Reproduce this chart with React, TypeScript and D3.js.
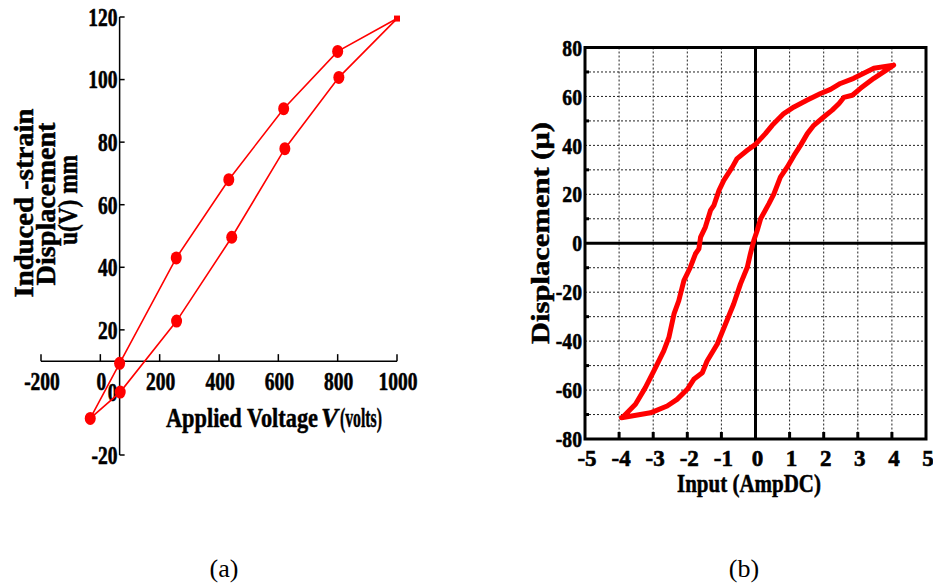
import React from "react";
import * as d3 from "d3";

// (a) induced-strain displacement vs applied voltage
const voltageLoad = [-34, 67, 257, 443, 622, 804, 1000];
const dispLoad = [-8.3, 0.1, 22.8, 49.6, 77.9, 100.7, 119.5];
const voltageUnload = [1000, 800, 618, 433, 256, 65, -34];
const dispUnload = [119.5, 109, 90.7, 68, 43, 9.3, -8.3];
const voltageTicks = [-200, 0, 200, 400, 600, 800, 1000];
const strainTicks = [-20, 0, 20, 40, 60, 80, 100, 120];

// (b) displacement vs input current, hysteresis loop
const inputDown = [4.05, 3.47, 2.88, 2.49, 2.2, 1.91, 1.52, 1.13, 0.83, 0.49, 0.29, 0, -0.24, -0.54, -0.68, -0.93, -1.07, -1.22, -1.32, -1.47, -1.61, -1.66, -1.76, -1.91, -2.1, -2.25, -2.39, -2.54, -2.69, -2.98, -3.23, -3.52, -3.86, -3.93];
const dispDown = [72.8, 71.5, 67.4, 65.3, 62.9, 61.2, 58.5, 55.7, 53.0, 48.2, 44.8, 40.4, 38.0, 34.6, 31.1, 25.7, 21.6, 15.5, 13.4, 6.6, 2.5, -2.3, -4.3, -9.8, -15.3, -23.5, -28.9, -38.5, -44.0, -52.2, -59.0, -65.8, -70.6, -71.3];
const inputUp = [-3.93, -3.08, -2.59, -2.3, -2.0, -1.81, -1.56, -1.42, -1.12, -0.88, -0.64, -0.44, -0.24, -0.15, -0.05, 0.05, 0.15, 0.39, 0.54, 0.73, 0.93, 1.13, 1.32, 1.52, 1.71, 2.0, 2.25, 2.45, 2.59, 2.84, 3.08, 3.47, 3.77, 4.05];
const dispUp = [-71.3, -69.3, -66.5, -63.8, -59.7, -55.6, -52.9, -48.1, -41.2, -33.0, -24.8, -16.6, -9.8, -4.3, 1.1, 5.2, 10.0, 16.1, 20.2, 27.0, 31.1, 35.9, 40.0, 44.8, 48.2, 51.6, 54.4, 57.1, 59.6, 60.5, 63.3, 67.4, 70.1, 72.8];
const inputTicks = [-5, -4, -3, -2, -1, 0, 1, 2, 3, 4, 5];
const dispTicks = [-80, -60, -40, -20, 0, 20, 40, 60, 80];
const dispGrid = [-70, -60, -50, -40, -30, -20, -10, 10, 20, 30, 40, 50, 60, 70];
const dispMinor = [-70, -50, -30, -10, 10, 30, 50, 70];

const RED = "#ff0000";
const SERIF = "'Liberation Serif', 'Times New Roman', serif";

// squeezed width of a numeric label (digits are 0.5em, minus 0.333em in Times)
const numWidth = (s: string, fs: number, squeeze: number) =>
  s.split("").reduce((w, c) => w + (c === "-" ? 0.333 : 0.5), 0) * fs * squeeze;

const Num = ({ x, y, v, fs, squeeze, anchor, dy }: any) => {
  const s = String(v);
  return (
    <text
      x={x}
      y={y}
      dy={dy}
      textAnchor={anchor}
      fontFamily={SERIF}
      fontWeight={700}
      fontSize={fs}
      stroke="#000"
      strokeWidth={0.6}
      textLength={numWidth(s, fs, squeeze)}
      lengthAdjust="spacingAndGlyphs"
    >
      {s}
    </text>
  );
};

export default function App() {
  // panel (a) scales
  const xa = d3.scaleLinear().domain([-200, 1000]).range([41, 397]);
  const ya = d3.scaleLinear().domain([-20, 120]).range([455, 17]);
  const axisXa = xa(65); // vertical axis crosses here
  const axisYa = ya(10); // horizontal axis crosses here

  const lineA = d3
    .line<[number, number]>()
    .x((d) => xa(d[0]))
    .y((d) => ya(d[1]));
  const loadPts: [number, number][] = voltageLoad.map((v, i) => [v, dispLoad[i]]);
  const unloadPts: [number, number][] = voltageUnload.map((v, i) => [v, dispUnload[i]]);
  const dots = [...loadPts.slice(0, -1), ...unloadPts.slice(1, -1)];

  // panel (b) scales
  const xb = d3.scaleLinear().domain([-5, 5]).range([585, 926]);
  const yb = d3.scaleLinear().domain([-80, 80]).range([439, 47.5]);
  const lineB = d3
    .line<[number, number]>()
    .x((d) => xb(d[0]))
    .y((d) => yb(d[1]));
  const loopPts: [number, number][] = [
    ...inputDown.map((v, i) => [v, dispDown[i]] as [number, number]),
    ...inputUp.slice(1).map((v, i) => [v, dispUp[i + 1]] as [number, number]),
  ];

  const boldTitle = { fontFamily: SERIF, fontWeight: 700, stroke: "#000", strokeWidth: 0.5 };

  return (
    <svg
      width={933}
      height={584}
      style={{ position: "absolute", left: 0, top: 0, background: "#fff" }}
    >
      {/* ---------- (a) ---------- */}
      <g>
        <line x1={axisXa} x2={axisXa} y1={ya(120)} y2={ya(-20)} stroke="#000" strokeWidth={1.5} />
        <line x1={xa(-200)} x2={xa(1000)} y1={axisYa} y2={axisYa} stroke="#000" strokeWidth={1.5} />
        {strainTicks.map((t) => (
          <g key={"ya" + t}>
            <line x1={axisXa} x2={axisXa + 5} y1={ya(t)} y2={ya(t)} stroke="#000" strokeWidth={1.5} />
            <Num x={axisXa - 2} y={ya(t)} dy="0.34em" v={t} fs={26} squeeze={0.75} anchor="end" />
          </g>
        ))}
        {voltageTicks.map((t) => (
          <g key={"xa" + t}>
            <line x1={xa(t)} x2={xa(t)} y1={axisYa} y2={axisYa - 7} stroke="#000" strokeWidth={1.5} />
            <Num x={xa(t) + 1} y={390} v={t} fs={26} squeeze={0.75} anchor="middle" />
          </g>
        ))}
        <path d={lineA(loadPts) ?? ""} fill="none" stroke={RED} strokeWidth={1.6} />
        <path d={lineA(unloadPts) ?? ""} fill="none" stroke={RED} strokeWidth={1.6} />
        {dots.map((d, i) => (
          <ellipse key={i} cx={xa(d[0])} cy={ya(d[1])} rx={5.5} ry={6.5} fill={RED} />
        ))}
        <rect x={xa(1000) - 3} y={ya(119.5) - 3} width={6} height={6} fill={RED} />

        <g {...boldTitle} fontSize={28}>
          <text transform="translate(33,203) rotate(-90)" textAnchor="middle" textLength={189} lengthAdjust="spacingAndGlyphs">
            Induced -strain
          </text>
          <text transform="translate(55,204) rotate(-90)" textAnchor="middle" textLength={163} lengthAdjust="spacingAndGlyphs">
            Displacement
          </text>
          <text transform="translate(77,200) rotate(-90)" textAnchor="middle" textLength={90} lengthAdjust="spacingAndGlyphs">
            u(V) mm
          </text>
        </g>
        <g {...boldTitle} fontSize={28}>
          <text x={166} y={427} textLength={152} lengthAdjust="spacingAndGlyphs">
            Applied Voltage
          </text>
          <text x={321} y={427} fontStyle="italic" textLength={17} lengthAdjust="spacingAndGlyphs">
            V
          </text>
          <text x={340} y={427} textLength={42} lengthAdjust="spacingAndGlyphs">
            (volts)
          </text>
        </g>
      </g>

      {/* ---------- (b) ---------- */}
      <g>
        {inputTicks.slice(1, -1).map((t) => (
          <line key={"gx" + t} x1={xb(t)} x2={xb(t)} y1={yb(80)} y2={yb(-80)} stroke="#222" strokeWidth={1} strokeDasharray="2,2" />
        ))}
        {dispGrid.map((t) => (
          <line key={"gy" + t} x1={xb(-5)} x2={xb(5)} y1={yb(t)} y2={yb(t)} stroke="#222" strokeWidth={1} strokeDasharray="2,2" />
        ))}
        <line x1={xb(0)} x2={xb(0)} y1={yb(80)} y2={yb(-80)} stroke="#000" strokeWidth={3} />
        <line x1={xb(-5)} x2={xb(5)} y1={yb(0)} y2={yb(0)} stroke="#000" strokeWidth={3} />
        <rect x={xb(-5)} y={yb(80)} width={xb(5) - xb(-5)} height={yb(-80) - yb(80)} fill="none" stroke="#000" strokeWidth={3} />
        {inputTicks.slice(1, -1).map((t) => (
          <line key={"tx" + t} x1={xb(t)} x2={xb(t)} y1={yb(-80)} y2={yb(-80) - 7} stroke="#000" strokeWidth={3} />
        ))}
        {dispMinor.map((t) => (
          <line key={"ty" + t} x1={xb(-5)} x2={xb(-5) + 4} y1={yb(t)} y2={yb(t)} stroke="#000" strokeWidth={3} />
        ))}
        {dispTicks.map((t) => (
          <Num key={"ly" + t} x={582} y={yb(t)} dy="0.34em" v={t} fs={24} squeeze={0.82} anchor="end" />
        ))}
        {inputTicks.map((t) => (
          <Num key={"lx" + t} x={xb(t) + 2} y={466} v={t} fs={23} squeeze={1} anchor="middle" />
        ))}
        <path d={lineB(loopPts) ?? ""} fill="none" stroke={RED} strokeWidth={5} strokeLinejoin="round" strokeLinecap="round" />

        <text
          transform="translate(549,233) rotate(-90)"
          textAnchor="middle"
          {...boldTitle}
          fontSize={26}
          textLength={222}
          lengthAdjust="spacingAndGlyphs"
        >
          Displacement (μ)
        </text>
        <text x={749} y={492} textAnchor="middle" {...boldTitle} fontSize={25} textLength={144} lengthAdjust="spacingAndGlyphs">
          Input (AmpDC)
        </text>
      </g>

      <text x={224} y={577} textAnchor="middle" fontFamily={SERIF} fontSize={26}>
        (a)
      </text>
      <text x={744} y={577} textAnchor="middle" fontFamily={SERIF} fontSize={26}>
        (b)
      </text>
    </svg>
  );
}
